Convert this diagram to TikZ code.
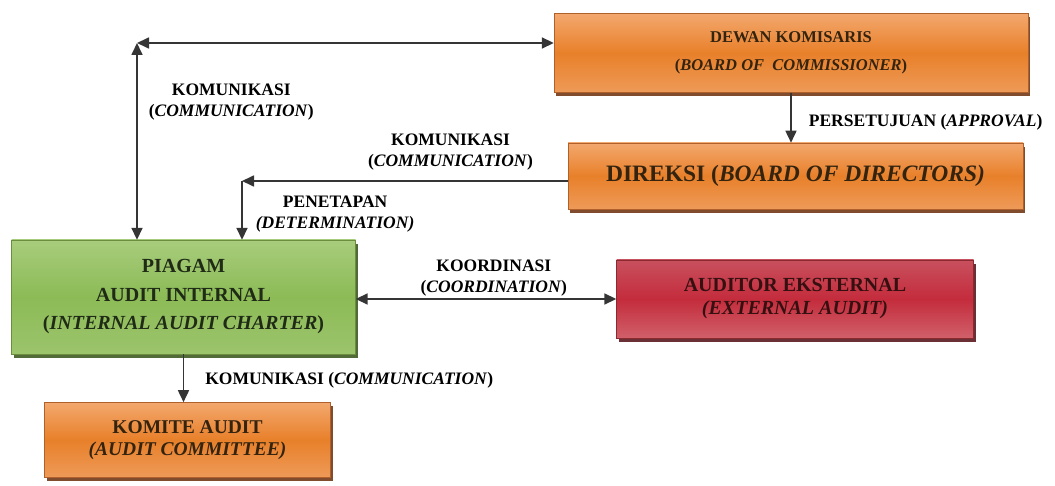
\documentclass[tikz,border=0pt]{standalone}
\usepackage{fontspec}
\setmainfont{Liberation Serif}
\usetikzlibrary{positioning}
\usetikzlibrary{arrows.meta}
\usetikzlibrary{shadows}
\definecolor{orgtop}{HTML}{F3A86E}
\definecolor{orgmid}{HTML}{E8802A}
\definecolor{orgbot}{HTML}{EE9A58}
\definecolor{orgedge}{HTML}{B0602A}
\definecolor{orgshadow}{HTML}{733816}
\definecolor{orgtext}{HTML}{33230F}
\definecolor{grntop}{HTML}{A8CC7C}
\definecolor{grnmid}{HTML}{8CBB56}
\definecolor{grnbot}{HTML}{9CC46C}
\definecolor{grnedge}{HTML}{6A8E3E}
\definecolor{grnshadow}{HTML}{3E5A22}
\definecolor{grntext}{HTML}{1F2B16}
\definecolor{redtop}{HTML}{C8505E}
\definecolor{redmid}{HTML}{C42C3C}
\definecolor{redbot}{HTML}{D0606A}
\definecolor{rededge}{HTML}{8A2A30}
\definecolor{redshadow}{HTML}{5A1A20}
\definecolor{redtext}{HTML}{361010}
\definecolor{arrowgray}{HTML}{353535}
\tikzset{
  orgbox/.style={rectangle,draw=orgedge,top color=orgtop,bottom color=orgbot,
                 middle color=orgmid,text=orgtext,align=center,inner sep=0pt,
                 drop shadow={shadow xshift=2pt,shadow yshift=-4pt,
                              fill=orgshadow,opacity=.9}},
  grnbox/.style={rectangle,draw=grnedge,top color=grntop,bottom color=grnbot,
                 middle color=grnmid,text=grntext,align=center,inner sep=0pt,
                 drop shadow={shadow xshift=2pt,shadow yshift=-4pt,
                              fill=grnshadow,opacity=.9}},
  redbox/.style={rectangle,draw=rededge,top color=redtop,bottom color=redbot,
                 middle color=redmid,text=redtext,align=center,inner sep=0pt,
                 drop shadow={shadow xshift=2pt,shadow yshift=-4pt,
                              fill=redshadow,opacity=.9}},
  flow/.style={>={Triangle[length=12pt,width=11pt]},line width=1.7pt,
               draw=arrowgray,fill=arrowgray},
  flowlabel/.style={font=\fontsize{17.5}{21}\selectfont\bfseries,
                    align=center,inner sep=2pt,text=black},
}

\begin{document}
\begin{tikzpicture}[x=1pt,y=-1pt]
  \useasboundingbox (0,0) rectangle (1055,486);

  \node[orgbox,minimum width=474pt,minimum height=79pt,
        font=\fontsize{16.5}{28}\selectfont\bfseries]
      (dewan) at (791,53)
      {DEWAN KOMISARIS\\(\textit{BOARD OF\ \ COMMISSIONER})};
  \node[orgbox,minimum width=455pt,minimum height=66pt,
        font=\fontsize{23.5}{26}\selectfont\bfseries]
      (direksi) [below=50pt of dewan,xshift=4.5pt]
      {DIREKSI (\textit{BOARD OF DIRECTORS)}};
  \node[grnbox,minimum width=344pt,minimum height=114pt,
        font=\fontsize{20}{28.5}\selectfont\bfseries]
      (piagam) at (183.5,297)
      {PIAGAM\\AUDIT INTERNAL\\(\textit{INTERNAL AUDIT CHARTER})};
  \node[redbox,minimum width=357pt,minimum height=78pt,
        font=\fontsize{20}{23}\selectfont\bfseries]
      (auditor) at (795,299)
      {AUDITOR EKSTERNAL\\\textit{(EXTERNAL AUDIT)}};
  \node[orgbox,minimum width=286pt,minimum height=75pt,
        font=\fontsize{19.5}{22}\selectfont\bfseries]
      (komite) [below=48pt of piagam,xshift=4pt]
      {KOMITE AUDIT\\\textit{(AUDIT COMMITTEE)}};

  \coordinate (komcorner) at (137,43);
  \coordinate (dircorner) at (242,181);

  \draw[flow,<->]
      (komcorner) -- (komcorner -| dewan.west);
  \draw[flow,<->]
      (komcorner) --
      node[flowlabel,anchor=west,xshift=9pt,pos=0.3] (komlabel)
          {KOMUNIKASI\\(\textit{COMMUNICATION})}
      (komcorner |- piagam.north);

  \draw[flow,->]
      (dewan.south) --
      node[flowlabel,anchor=west,xshift=15pt,pos=0.6] (setujulabel)
          {PERSETUJUAN (\textit{APPROVAL})}
      (dewan.south |- direksi.north);

  \draw[flow,->]
      (dircorner -| direksi.west) --
      node[flowlabel,above,yshift=8pt,pos=0.36] (komdirlabel)
          {KOMUNIKASI\\(\textit{COMMUNICATION})}
      (dircorner);
  \draw[flow,->]
      (dircorner) --
      node[flowlabel,anchor=west,xshift=11pt,pos=0.56] (tetaplabel)
          {PENETAPAN\\\textit{(DETERMINATION)}}
      (dircorner |- piagam.north);

  \draw[flow,<->]
      (auditor.west -| piagam.east) --
      node[flowlabel,above,pos=0.53] (koorlabel)
          {KOORDINASI\\(\textit{COORDINATION})}
      (auditor.west);

  \draw[flow,->]
      (piagam.south) --
      node[flowlabel,anchor=west,xshift=19pt,pos=0.55] (komkomlabel)
          {KOMUNIKASI (\textit{COMMUNICATION})}
      (piagam.south |- komite.north);
\end{tikzpicture}
\end{document}
